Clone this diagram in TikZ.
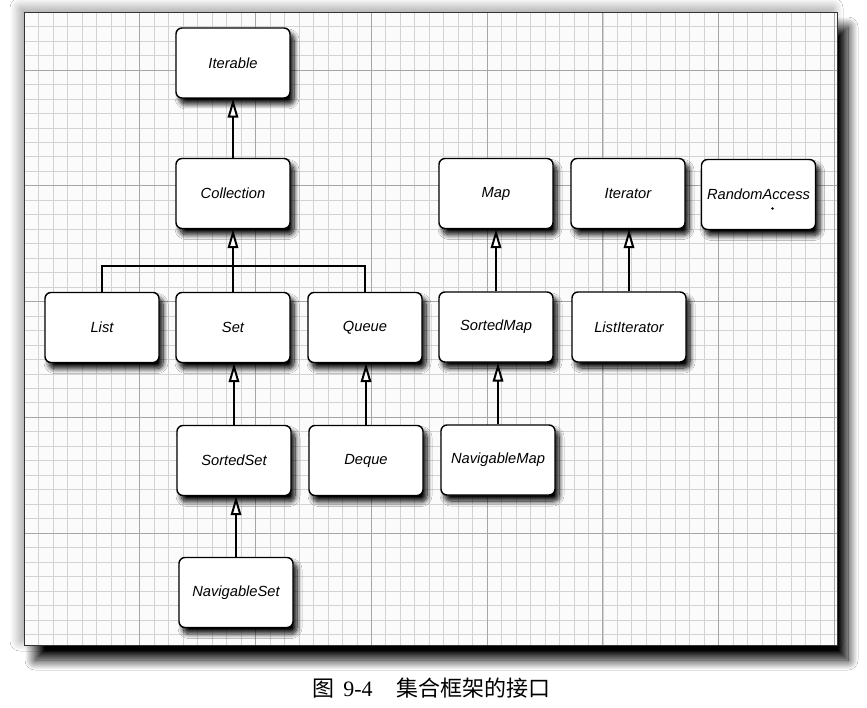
\documentclass[tikz,border=0pt]{standalone}
\usepackage{fontspec}
\setmainfont{Liberation Serif}
\setsansfont{Liberation Sans}
\newfontfamily\cjk{Noto Sans CJK SC}
\usetikzlibrary{arrows.meta}
\usetikzlibrary{shadows.blur}

\tikzset{
    iface/.style={draw=black, line width=1.4pt, rounded corners=6pt, fill=white,
        minimum width=114pt, minimum height=70pt, inner sep=0pt,
        font=\sffamily\itshape\fontsize{14.7}{17}\selectfont,
        blur shadow={shadow xshift=4pt, shadow yshift=-6pt, shadow blur radius=5pt, shadow opacity=100, shadow blur steps=10}},
    extends/.style={line width=2pt, -{Triangle[open, fill=white, length=19pt, width=10.5pt]}},
    link/.style={line width=2pt},
}

\begin{document}
\begin{tikzpicture}[x=1pt, y=-1pt]
    \useasboundingbox (0,0) rectangle (867,708);
    \fill[white] (0,0) rectangle (867,708);
    \def\Minor{14.47}
    % paper
    \path[blur shadow={shadow xshift=-4pt, shadow yshift=4pt, shadow blur radius=10pt, shadow opacity=40, shadow blur steps=20}] (24,12) rectangle (837,645);
    \fill[gray!3, blur shadow={shadow xshift=11pt, shadow yshift=-15pt, shadow blur radius=10pt, shadow opacity=100, shadow blur steps=20}] (24,12) rectangle (837,645);
    \begin{scope}
        \clip (24,12) rectangle (837,645);
        \foreach \i in {0,...,56}
            \draw[gray!35, line width=0.6pt] ({24+\i*\Minor},12) -- ({24+\i*\Minor},645);
        \foreach \j in {0,...,43}
            \draw[gray!35, line width=0.6pt] (24,{12.1+\j*\Minor}) -- (837,{12.1+\j*\Minor});
        \foreach \i in {0,8,...,56}
            \draw[gray!70, line width=0.8pt] ({24+\i*\Minor},12) -- ({24+\i*\Minor},645);
        \foreach \j in {4,12,...,43}
            \draw[gray!70, line width=0.8pt] (24,{12.1+\j*\Minor}) -- (837,{12.1+\j*\Minor});
    \end{scope}
    \draw[black!80, line width=0.8pt] (24,12) rectangle (837,645);

    % interfaces
    \node[iface] (iterable) at (233,63) {Iterable};
    \node[iface] (collection) at (233,193.5) {Collection};
    \node[iface] (list) at (102,327.5) {List};
    \node[iface] (set) at (233,327.5) {Set};
    \node[iface] (queue) at (365,327.5) {Queue};
    \node[iface] (map) at (496,193.5) {Map};
    \node[iface] (iterator) at (628,193.5) {Iterator};
    \node[iface] (randomaccess) at (758.5,194.5) {RandomAccess};
    \node[iface] (sortedmap) at (496,327) {SortedMap};
    \node[iface] (listiterator) at (629,327) {ListIterator};
    \node[iface] (sortedset) at (234,460.5) {SortedSet};
    \node[iface] (deque) at (366,460.5) {Deque};
    \node[iface] (navigablemap) at (498,460) {NavigableMap};
    \node[iface] (navigableset) at (236,592.5) {NavigableSet};
    \fill (randomaccess.center) ++(14,14) circle (1.4);

    % inheritance
    \coordinate (bar) at (233,266);
    \draw[extends] (collection.north) -- (iterable.south);
    \draw[link] (list.north) |- (bar) -| (queue.north);
    \draw[extends] (set.north) -- (collection.south);
    \draw[extends] (sortedmap.north) -- (map.south);
    \draw[extends] (listiterator.north) -- (listiterator.north |- iterator.south);
    \draw[extends] (sortedset.north) -- (sortedset.north |- set.south);
    \draw[extends] (deque.north) -- (deque.north |- queue.south);
    \draw[extends] (navigablemap.north) -- (navigablemap.north |- sortedmap.south);
    \draw[extends] (navigableset.north) -- (navigableset.north |- sortedset.south);

    \node (caption) at (431.5,688.5) {\fontsize{22}{26}\selectfont{\cjk 图}\hspace{9pt}9-4\hspace{24pt}{\cjk 集合框架的接口}};
\end{tikzpicture}
\end{document}
